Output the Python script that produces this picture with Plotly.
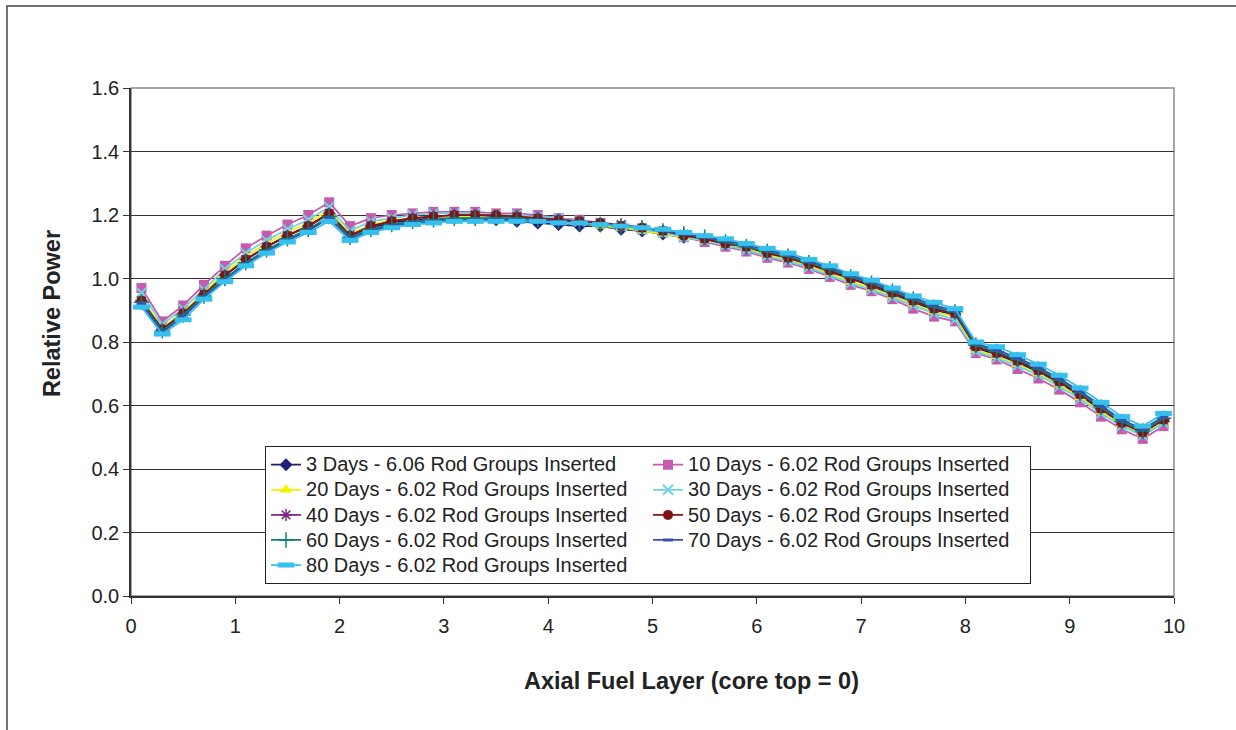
import plotly.graph_objects as go

layers = [0.1, 0.3, 0.5, 0.7, 0.9, 1.1, 1.3, 1.5, 1.7, 1.9,
          2.1, 2.3, 2.5, 2.7, 2.9, 3.1, 3.3, 3.5, 3.7, 3.9,
          4.1, 4.3, 4.5, 4.7, 4.9, 5.1, 5.3, 5.5, 5.7, 5.9,
          6.1, 6.3, 6.5, 6.7, 6.9, 7.1, 7.3, 7.5, 7.7, 7.9,
          8.1, 8.3, 8.5, 8.7, 8.9, 9.1, 9.3, 9.5, 9.7, 9.9]

d3 = [0.93, 0.84, 0.89, 0.95, 1.01, 1.06, 1.10, 1.135, 1.165, 1.205,
      1.135, 1.16, 1.175, 1.185, 1.19, 1.19, 1.19, 1.185, 1.18, 1.175,
      1.17, 1.165, 1.165, 1.155, 1.15, 1.14, 1.13, 1.12, 1.11, 1.095,
      1.08, 1.065, 1.045, 1.02, 1.0, 0.975, 0.95, 0.925, 0.90, 0.885,
      0.78, 0.76, 0.735, 0.705, 0.67, 0.63, 0.585, 0.54, 0.51, 0.55]
d10 = [0.97, 0.865, 0.915, 0.98, 1.04, 1.095, 1.135, 1.17, 1.20, 1.24,
       1.165, 1.19, 1.20, 1.205, 1.21, 1.21, 1.21, 1.205, 1.205, 1.20,
       1.19, 1.185, 1.175, 1.165, 1.155, 1.145, 1.13, 1.115, 1.10, 1.085,
       1.065, 1.05, 1.03, 1.005, 0.98, 0.96, 0.935, 0.905, 0.88, 0.865,
       0.765, 0.745, 0.715, 0.685, 0.65, 0.61, 0.565, 0.525, 0.495, 0.535]
d20 = [0.94, 0.845, 0.895, 0.955, 1.02, 1.07, 1.11, 1.145, 1.175, 1.215,
       1.14, 1.17, 1.185, 1.19, 1.195, 1.195, 1.195, 1.19, 1.19, 1.185,
       1.18, 1.175, 1.165, 1.16, 1.15, 1.14, 1.13, 1.12, 1.105, 1.095,
       1.075, 1.06, 1.04, 1.015, 0.99, 0.97, 0.945, 0.92, 0.895, 0.88,
       0.775, 0.755, 0.73, 0.70, 0.665, 0.625, 0.58, 0.54, 0.51, 0.55]
d30 = [0.955, 0.855, 0.905, 0.965, 1.03, 1.08, 1.12, 1.155, 1.185, 1.225,
       1.15, 1.18, 1.19, 1.20, 1.205, 1.205, 1.205, 1.20, 1.20, 1.195,
       1.19, 1.18, 1.175, 1.165, 1.155, 1.145, 1.13, 1.12, 1.105, 1.09,
       1.07, 1.055, 1.035, 1.01, 0.985, 0.965, 0.94, 0.915, 0.89, 0.87,
       0.77, 0.75, 0.725, 0.695, 0.66, 0.62, 0.575, 0.535, 0.505, 0.545]
d40 = [0.93, 0.84, 0.89, 0.95, 1.01, 1.06, 1.10, 1.135, 1.165, 1.205,
       1.135, 1.165, 1.18, 1.19, 1.195, 1.20, 1.20, 1.195, 1.195, 1.19,
       1.185, 1.18, 1.175, 1.17, 1.16, 1.15, 1.14, 1.125, 1.11, 1.10,
       1.08, 1.065, 1.045, 1.025, 1.0, 0.98, 0.955, 0.93, 0.905, 0.89,
       0.785, 0.765, 0.74, 0.71, 0.675, 0.635, 0.59, 0.545, 0.515, 0.555]
d50 = [0.93, 0.84, 0.89, 0.95, 1.01, 1.06, 1.10, 1.135, 1.165, 1.205,
       1.135, 1.165, 1.18, 1.19, 1.195, 1.20, 1.20, 1.20, 1.195, 1.19,
       1.185, 1.18, 1.175, 1.165, 1.16, 1.15, 1.135, 1.125, 1.11, 1.10,
       1.08, 1.065, 1.045, 1.025, 1.00, 0.98, 0.955, 0.93, 0.905, 0.89,
       0.785, 0.765, 0.74, 0.71, 0.675, 0.635, 0.59, 0.545, 0.515, 0.555]
d60 = [0.925, 0.835, 0.885, 0.945, 1.0, 1.05, 1.09, 1.125, 1.155, 1.195,
       1.13, 1.155, 1.17, 1.18, 1.185, 1.19, 1.19, 1.19, 1.19, 1.185,
       1.18, 1.175, 1.17, 1.165, 1.16, 1.15, 1.14, 1.13, 1.115, 1.10,
       1.085, 1.07, 1.05, 1.03, 1.005, 0.985, 0.96, 0.935, 0.91, 0.895,
       0.79, 0.77, 0.745, 0.715, 0.68, 0.64, 0.595, 0.55, 0.52, 0.56]
d70 = [0.92, 0.83, 0.88, 0.94, 0.995, 1.045, 1.085, 1.12, 1.15, 1.19,
       1.125, 1.15, 1.165, 1.175, 1.18, 1.185, 1.185, 1.185, 1.185, 1.18,
       1.18, 1.175, 1.17, 1.165, 1.16, 1.15, 1.14, 1.13, 1.12, 1.105,
       1.09, 1.075, 1.055, 1.035, 1.01, 0.99, 0.965, 0.94, 0.915, 0.90,
       0.795, 0.775, 0.75, 0.72, 0.685, 0.645, 0.60, 0.555, 0.525, 0.565]
d80 = [0.91, 0.825, 0.87, 0.935, 0.99, 1.04, 1.08, 1.115, 1.145, 1.18,
       1.12, 1.145, 1.16, 1.17, 1.175, 1.18, 1.18, 1.18, 1.18, 1.18,
       1.175, 1.175, 1.17, 1.165, 1.16, 1.155, 1.145, 1.135, 1.125, 1.11,
       1.095, 1.08, 1.06, 1.04, 1.015, 0.995, 0.97, 0.945, 0.925, 0.905,
       0.80, 0.785, 0.76, 0.73, 0.695, 0.655, 0.61, 0.565, 0.535, 0.575]

names = ["3 Days - 6.06 Rod Groups Inserted",
         "10 Days - 6.02 Rod Groups Inserted",
         "20 Days - 6.02 Rod Groups Inserted",
         "30 Days - 6.02 Rod Groups Inserted",
         "40 Days - 6.02 Rod Groups Inserted",
         "50 Days - 6.02 Rod Groups Inserted",
         "60 Days - 6.02 Rod Groups Inserted",
         "70 Days - 6.02 Rod Groups Inserted",
         "80 Days - 6.02 Rod Groups Inserted"]
series = [d3, d10, d20, d30, d40, d50, d60, d70, d80]

colors = ["#1F1F7A", "#C55AAE", "#F2F200", "#6FD3E2", "#7B2A85",
          "#7F1416", "#0E7F7A", "#3550B0", "#35C0EE"]
symbols = ["diamond", "square", "triangle-up", "x-thin-open", "asterisk-open",
           "circle", "cross-thin-open", "line-ew-open", "line-ew-open"]
sizes = [10, 10, 11, 10, 10, 10, 11, 7, 12]
mline = [0, 0, 0, 2, 1.5, 0, 1.5, 3, 5]

fig = go.Figure()
for nm, ys, c, s, sz, ml in zip(names, series, colors, symbols, sizes, mline):
    fig.add_trace(go.Scatter(
        x=layers, y=ys, name='<span style="font-size:20px">' + nm + '</span>',
        mode="lines+markers",
        line=dict(color=c, width=1.75),
        marker=dict(symbol=s, size=sz, color=c, line=dict(color=c, width=ml)),
    ))

fig.update_layout(
    width=1236, height=730,
    margin=dict(l=131, r=62, t=88, b=134),
    paper_bgcolor="white", plot_bgcolor="white",
    font=dict(family="Liberation Sans, Arial, sans-serif", size=20, color="#222"),
    showlegend=True,
    legend=dict(
        orientation="h", x=0.1285, y=0.295, xanchor="left", yanchor="top",
        bgcolor="white", bordercolor="#222", borderwidth=1,
        entrywidth=337, entrywidthmode="pixels",
        font=dict(size=17, color="#222"),
        tracegroupgap=0, itemsizing="trace",
    ),
    xaxis=dict(
        range=[0, 10], tickvals=[0, 1, 2, 3, 4, 5, 6, 7, 8, 9, 10],
        showgrid=False, zeroline=False, showline=True, linecolor="#333",
        linewidth=1.5, ticks="outside", ticklen=6, tickcolor="#333",
        tickfont=dict(size=20), ticklabelstandoff=5,
    ),
    yaxis=dict(
        range=[0, 1.6], tickvals=[0, 0.2, 0.4, 0.6, 0.8, 1.0, 1.2, 1.4, 1.6],
        tickformat=".1f",
        showgrid=True, gridcolor="#333", gridwidth=1, zeroline=False,
        showline=True, linecolor="#333", linewidth=1.5,
        ticks="outside", ticklen=6, tickcolor="#333",
        tickfont=dict(size=20),
    ),
    annotations=[
        dict(text="<b>Axial Fuel Layer (core top = 0)</b>", xref="paper",
             yref="paper", x=0.537, y=-0.1673, xanchor="center",
             yanchor="middle", showarrow=False, font=dict(size=23.5)),
        dict(text="<b>Relative Power</b>", xref="paper", yref="paper",
             x=-0.0757, y=0.555, xanchor="center", yanchor="middle",
             textangle=-90, showarrow=False, font=dict(size=23.5)),
    ],
    shapes=[
        dict(type="rect", xref="paper", yref="paper", x0=0, x1=1, y0=0, y1=1,
             line=dict(color="#8a8a8a", width=1.5), layer="below"),
        dict(type="rect", xref="paper", yref="paper", x0=-0.1189, x1=1.2,
             y0=-0.4, y1=1.1614, line=dict(color="#444", width=1.5),
             layer="below"),
    ],
)

fig.write_html("out.html")
